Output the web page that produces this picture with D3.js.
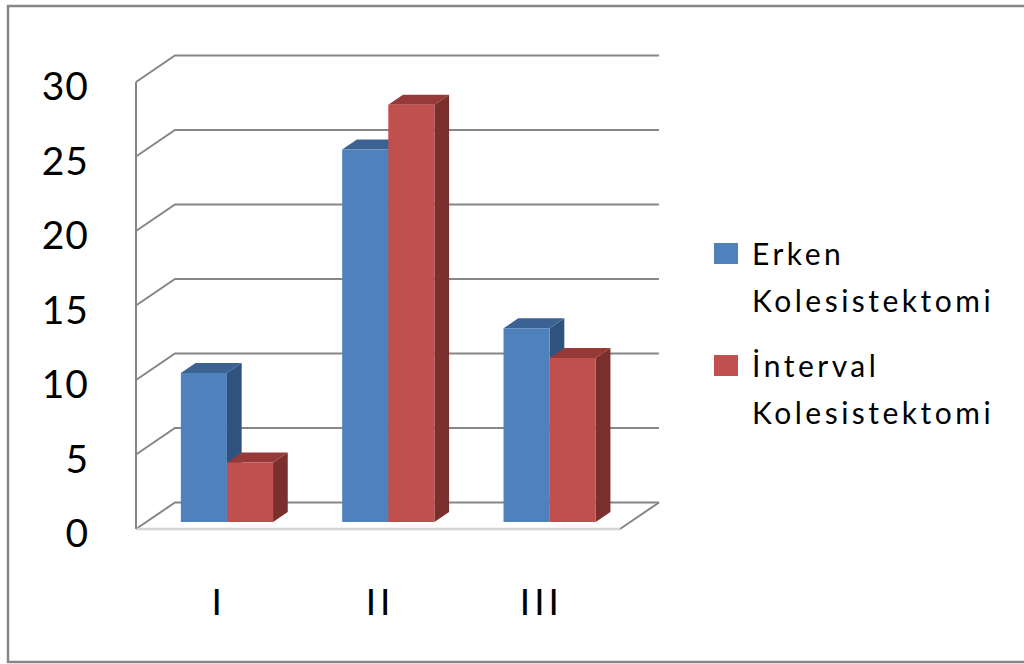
<!DOCTYPE html>
<html>
<head>
<meta charset="utf-8">
<script src="https://cdn.jsdelivr.net/npm/d3@7"></script>
<style>
  html, body { margin: 0; padding: 0; background: #fff; }
  svg { display: block; }
</style>
</head>
<body>
<svg id="chart" width="1024" height="664"></svg>
<script>
// Data
const categories = ['I', 'II', 'III'];
const seriesNames = ['Erken Kolesistektomi', 'İnterval Kolesistektomi'];
const erkenValues = [10, 25, 13];
const intervalValues = [4, 28, 11];
const yTicks = [0, 5, 10, 15, 20, 25, 30];

const seriesValues = [erkenValues, intervalValues];
const seriesColors = [
  { front: '#4F81BD', side: '#30527F', top: '#3B6293' },
  { front: '#C0504D', side: '#7B2F2D', top: '#953A38' }
];
const legendLines = [['Erken', 'Kolesistektomi'], ['İnterval', 'Kolesistektomi']];

const svg = d3.select('#chart');

// outer chart border
svg.append('rect')
  .attr('x', 8).attr('y', 6)
  .attr('width', 1040).attr('height', 656)
  .attr('fill', 'none')
  .attr('stroke', '#868686')
  .attr('stroke-width', 2.5);

// oblique 3D projection: z is depth in px (front plane z = 0)
const K = 1.47;
const zBack = 26.5;
const zBarFront = 7, zBarBack = 17;
const proj = (x, y, z) => [x + z * K, y - z];

const x0 = d3.scaleBand().domain(categories).range([136, 620]);
const x1 = d3.scaleBand().domain(seriesNames).range([0, x0.bandwidth()])
  .paddingInner(0).paddingOuter(0.75);
const y = d3.scaleLinear().domain([0, 30]).range([529, 82]);

const line = d3.line();
const g = svg.append('g');

// gridlines: back wall + side wall diagonal
yTicks.forEach(t => {
  const yy = y(t);
  g.append('path')
    .attr('d', line([proj(136, yy, 0), proj(136, yy, zBack), proj(620, yy, zBack)]))
    .attr('fill', 'none')
    .attr('stroke', '#868686')
    .attr('stroke-width', 2);
});

// floor right edge
g.append('path')
  .attr('d', line([proj(620, y(0), 0), proj(620, y(0), zBack)]))
  .attr('stroke', '#868686').attr('stroke-width', 2);

// floor front edge
g.append('path')
  .attr('d', line([[136, y(0)], [620, y(0)]]))
  .attr('stroke', '#d4d4d4').attr('stroke-width', 2.5);

// vertical axis line
g.append('path')
  .attr('d', line([[136, y(0)], [136, y(30)]]))
  .attr('stroke', '#868686').attr('stroke-width', 2);

// tick labels
svg.append('g').selectAll('text')
  .data(yTicks)
  .enter()
  .append('text')
  .attr('x', 89)
  .attr('y', d => y(d) + 18)
  .attr('text-anchor', 'end')
  .style('font-family', 'Lato, "Open Sans", sans-serif')
  .style('font-size', '39px')
  .style('letter-spacing', '1px')
  .style('fill', '#000')
  .text(d => d);

// bars
const bars = svg.append('g');
categories.forEach((c, ci) => {
  seriesNames.forEach((s, si) => {
    const v = seriesValues[si][ci];
    const col = seriesColors[si];
    const xl = x0(c) + x1(s);
    const xr = xl + x1.bandwidth();
    const yb = y(0), yt = y(v);
    const poly = pts => bars.append('path').attr('d', line(pts) + 'Z');
    // side face
    poly([proj(xr, yb, zBarFront), proj(xr, yb, zBarBack), proj(xr, yt, zBarBack), proj(xr, yt, zBarFront)])
      .attr('fill', col.side);
    // top face
    poly([proj(xl, yt, zBarFront), proj(xr, yt, zBarFront), proj(xr, yt, zBarBack), proj(xl, yt, zBarBack)])
      .attr('fill', col.top);
    // front face
    poly([proj(xl, yb, zBarFront), proj(xr, yb, zBarFront), proj(xr, yt, zBarFront), proj(xl, yt, zBarFront)])
      .attr('fill', col.front);
  });
});

// category labels
const catSpacing = 4;
svg.append('g').selectAll('text')
  .data(categories)
  .enter()
  .append('text')
  .attr('x', d => x0(d) + x0.bandwidth() / 2 + catSpacing / 2)
  .attr('y', 615)
  .attr('text-anchor', 'middle')
  .style('font-family', 'Lato, "Open Sans", sans-serif')
  .style('font-size', '37px')
  .style('letter-spacing', catSpacing + 'px')
  .style('fill', '#000')
  .text(d => d);

// legend
const legend = svg.append('g');
seriesNames.forEach((s, i) => {
  const top = 243 + i * 112;
  legend.append('rect')
    .attr('x', 714).attr('y', top)
    .attr('width', 24).attr('height', 21)
    .attr('fill', seriesColors[i].front);
  legendLines[i].forEach((ln, j) => {
    legend.append('text')
      .attr('x', 752)
      .attr('y', top + 22 + j * 47)
      .style('font-family', 'Lato, "Open Sans", sans-serif')
      .style('font-size', '30px')
      .style('letter-spacing', '3.5px')
      .style('fill', '#000')
      .text(ln);
  });
});
</script>
</body>
</html>
